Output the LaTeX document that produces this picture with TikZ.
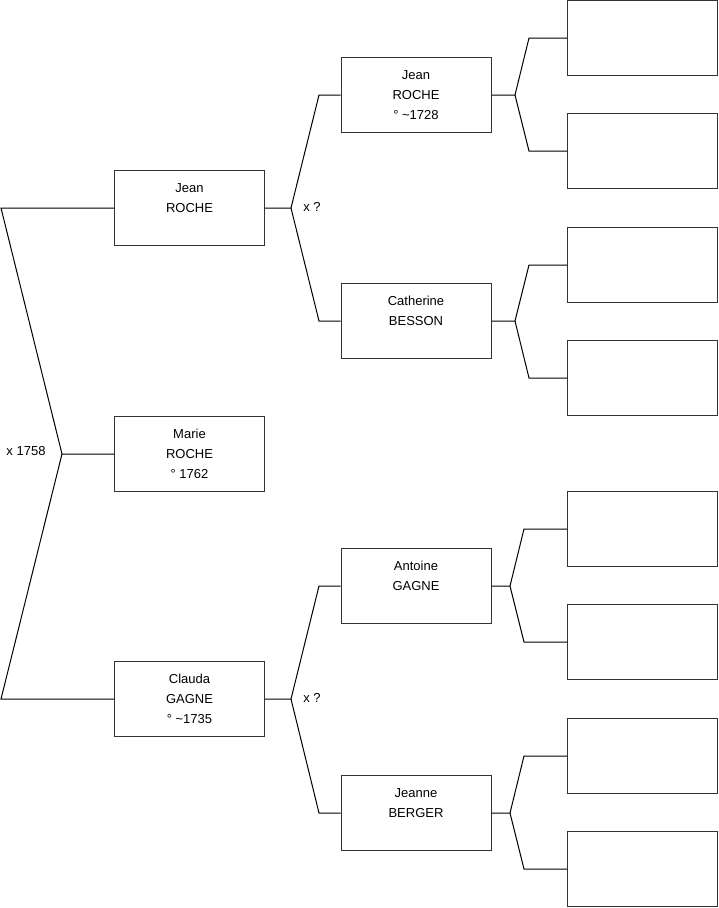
\documentclass[tikz,border=0pt]{standalone}
\usepackage{fontspec}
\setmainfont{Liberation Sans}
\usetikzlibrary{positioning, calc}

\begin{document}
\begin{tikzpicture}[
  x=1pt, y=-1pt, line width=1pt,
  person/.style = {draw=black!80, rectangle, minimum width=150pt, minimum height=75pt,
                   inner sep=0pt, align=center, font=\fontsize{13}{20}\selectfont},
  union/.style  = {font=\fontsize{13}{16}\selectfont, inner sep=1pt},
]
\useasboundingbox (0,0) rectangle (719,908);

%--- Generation 1: child and parents ---
  \node[person] (jean)    at (189.5,208) {Jean\\ROCHE\\\mbox{}};
  \node[person] (marie)   at (189.5,454) {Marie\\ROCHE\\° 1762};
  \node[person] (clauda)  at (189.5,699) {Clauda\\GAGNE\\° \textasciitilde1735};

  \coordinate (mtop) at (1,208);
  \coordinate (mbot) at (1,699);
  \coordinate (mx)   at (62,454);
  \node[union] (mlab) at (26,451) {x 1758};

  \draw (jean.west)   -- (mtop) -- (mx) -- (marie.west);
  \draw (clauda.west) -- (mbot) -- (mx);

%--- Generation 2: grandparents ---
  \node[person] (jeanp)   at (416,95)  {Jean\\ROCHE\\° \textasciitilde1728};
  \node[person] (cath)    at (416,321) {Catherine\\BESSON\\\mbox{}};
  \node[person] (antoine) at (416,586) {Antoine\\GAGNE\\\mbox{}};
  \node[person] (jeanne)  at (416,813) {Jeanne\\BERGER\\\mbox{}};

  \coordinate (jx)  at (291,208);
  \coordinate (jxu) at (319,95);
  \coordinate (jxd) at (319,321);
  \node[union] (jlab) at (312,207) {x ?};
  \draw (jean.east) -- (jx) -- (jxu) -- (jeanp.west);
  \draw (jx) -- (jxd) -- (cath.west);

  \coordinate (cx)  at (291,699);
  \coordinate (cxu) at (319,586);
  \coordinate (cxd) at (319,813);
  \node[union] (clab) at (312,698) {x ?};
  \draw (clauda.east) -- (cx) -- (cxu) -- (antoine.west);
  \draw (cx) -- (cxd) -- (jeanne.west);

%--- Generation 3: great-grandparents (unknown) ---
  \node[person] (g1) at (642.5,38)  {};
  \node[person] (g2) at (642.5,151) {};
  \node[person] (g3) at (642.5,265) {};
  \node[person] (g4) at (642.5,378) {};
  \node[person] (g5) at (642.5,529) {};
  \node[person] (g6) at (642.5,642) {};
  \node[person] (g7) at (642.5,756) {};
  \node[person] (g8) at (642.5,869) {};

  \coordinate (ax) at (515,95);
  \draw (jeanp.east) -- (ax) -- (529,38) -- (g1.west);
  \draw (ax) -- (529,151) -- (g2.west);

  \coordinate (bx) at (515,321);
  \draw (cath.east) -- (bx) -- (529,265) -- (g3.west);
  \draw (bx) -- (529,378) -- (g4.west);

  \coordinate (cgx) at (510,586);
  \draw (antoine.east) -- (cgx) -- (524,529) -- (g5.west);
  \draw (cgx) -- (524,642) -- (g6.west);

  \coordinate (dx) at (510,813);
  \draw (jeanne.east) -- (dx) -- (524,756) -- (g7.west);
  \draw (dx) -- (524,869) -- (g8.west);
\end{tikzpicture}
\end{document}
